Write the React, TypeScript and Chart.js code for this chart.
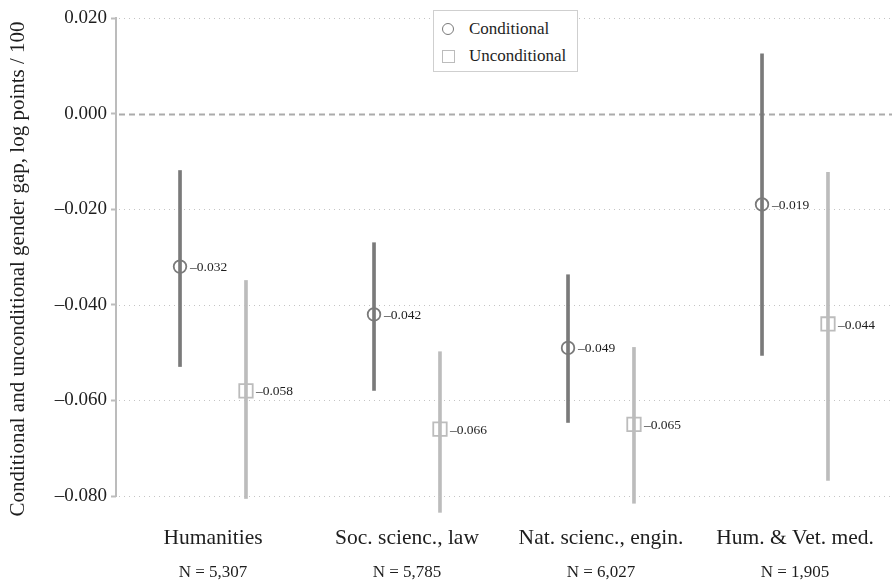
import React, { useEffect, useRef } from 'react';
import { Chart, registerables } from 'chart.js';

Chart.register(...registerables);

const categories = ['Humanities', 'Soc. scienc., law', 'Nat. scienc., engin.', 'Hum. & Vet. med.'];
const sampleSizes = ['N = 5,307', 'N = 5,785', 'N = 6,027', 'N = 1,905'];

const conditional = [-0.032, -0.042, -0.049, -0.019];
const conditionalLow = [-0.0529, -0.0579, -0.0646, -0.0506];
const conditionalHigh = [-0.0119, -0.027, -0.0337, 0.0125];

const unconditional = [-0.058, -0.066, -0.065, -0.044];
const unconditionalLow = [-0.0805, -0.0834, -0.0815, -0.0767];
const unconditionalHigh = [-0.0349, -0.0498, -0.0489, -0.0123];

const yTicks = [0.02, 0, -0.02, -0.04, -0.06, -0.08];

const OFFSET = 0.17;
const FONT = "'Liberation Serif', 'Times New Roman', Times, serif";
const DARK = '#7a7a7a';
const LIGHT = '#bcbcbc';
const TEXT = '#1e1e1e';

const fmt = (v: number) => {
  const s = (Math.abs(v) < 1e-9 ? 0 : v).toFixed(3);
  return s.replace('-', '\u2013');
};

const decorPlugin = {
  id: 'decor',
  beforeDatasetsDraw(chart: any) {
    const { ctx, chartArea, scales } = chart;
    const y = scales.y;
    ctx.save();
    yTicks.forEach((v) => {
      const py = Math.round(y.getPixelForValue(v)) + 0.5;
      ctx.beginPath();
      if (v === 0) {
        ctx.setLineDash([6, 4]);
        ctx.lineWidth = 2;
        ctx.strokeStyle = '#ababab';
      } else {
        ctx.setLineDash([1, 4]);
        ctx.lineWidth = 1;
        ctx.strokeStyle = '#c4c4c4';
      }
      ctx.moveTo(chartArea.left + 3, py);
      ctx.lineTo(chartArea.right, py);
      ctx.stroke();
    });
    ctx.setLineDash([]);
    ctx.beginPath();
    ctx.lineWidth = 2;
    ctx.strokeStyle = LIGHT;
    ctx.moveTo(chartArea.left, y.getPixelForValue(yTicks[0]) - 1);
    ctx.lineTo(chartArea.left, y.getPixelForValue(yTicks[yTicks.length - 1]) + 1);
    ctx.stroke();
    ctx.restore();
  },
  afterDatasetsDraw(chart: any) {
    const { ctx } = chart;
    ctx.save();
    ctx.font = `13.5px ${FONT}`;
    ctx.fillStyle = TEXT;
    ctx.textBaseline = 'middle';
    ctx.textAlign = 'left';
    chart.data.datasets.forEach((ds: any, di: number) => {
      if (ds.type !== 'scatter') return;
      const meta = chart.getDatasetMeta(di);
      meta.data.forEach((el: any, i: number) => {
        ctx.fillText(fmt(ds.data[i].y), el.x + 10, el.y + 1);
      });
    });
    ctx.restore();
  },
};

const zeroHPad = (s: any) => {
  s.paddingLeft = 0;
  s.paddingRight = 0;
};

export default function App() {
  const ref = useRef<HTMLCanvasElement | null>(null);

  useEffect(() => {
    if (!ref.current) return;
    const chart = new Chart(ref.current, {
      type: 'bar',
      data: {
        datasets: [
          {
            type: 'bar',
            label: 'Conditional CI',
            data: categories.map((_, i) => ({ x: i + 1 - OFFSET, y: [conditionalLow[i], conditionalHigh[i]] })) as any,
            backgroundColor: DARK,
            barThickness: 3,
            grouped: false,
            borderWidth: 0,
            order: 3,
          },
          {
            type: 'bar',
            label: 'Unconditional CI',
            data: categories.map((_, i) => ({ x: i + 1 + OFFSET, y: [unconditionalLow[i], unconditionalHigh[i]] })) as any,
            backgroundColor: LIGHT,
            barThickness: 3,
            grouped: false,
            borderWidth: 0,
            order: 3,
          },
          {
            type: 'scatter',
            label: 'Conditional',
            data: categories.map((_, i) => ({ x: i + 1 - OFFSET, y: conditional[i] })),
            pointStyle: 'circle',
            pointRadius: 6.3,
            borderColor: DARK,
            backgroundColor: 'rgba(0,0,0,0)',
            borderWidth: 1.8,
            order: 0,
          } as any,
          {
            type: 'scatter',
            label: 'Unconditional',
            data: categories.map((_, i) => ({ x: i + 1 + OFFSET, y: unconditional[i] })),
            pointStyle: 'rect',
            pointRadius: 9.5,
            borderColor: LIGHT,
            backgroundColor: 'rgba(0,0,0,0)',
            borderWidth: 1.8,
            order: 0,
          } as any,
        ],
      },
      options: {
        animation: false,
        responsive: false,
        layout: { autoPadding: false, padding: { top: 18, left: 0, right: 0, bottom: 0 } },
        plugins: { legend: { display: false }, tooltip: { enabled: false } },
        scales: {
          x: {
            type: 'linear',
            position: 'bottom',
            min: 0.5,
            max: 4.5,
            offset: false,
            grid: { display: false, drawTicks: false },
            border: { display: false },
            afterBuildTicks: (s: any) => {
              s.ticks = categories.map((_, i) => ({ value: i + 1 }));
            },
            ticks: {
              callback: (v: any) => categories[Math.round(v) - 1] ?? '',
              font: { family: FONT, size: 21.5 },
              color: TEXT,
              padding: 5,
              maxRotation: 0,
              autoSkip: false,
            },
            afterFit: (s: any) => {
              s.height = 32;
              zeroHPad(s);
            },
          } as any,
          x2: {
            type: 'linear',
            position: 'bottom',
            min: 0.5,
            max: 4.5,
            offset: false,
            grid: { display: false, drawTicks: false },
            border: { display: false },
            afterBuildTicks: (s: any) => {
              s.ticks = sampleSizes.map((_, i) => ({ value: i + 1 }));
            },
            ticks: {
              callback: (v: any) => sampleSizes[Math.round(v) - 1] ?? '',
              font: { family: FONT, size: 17 },
              color: TEXT,
              padding: 10,
              maxRotation: 0,
              autoSkip: false,
            },
            afterFit: (s: any) => {
              s.height = 28;
              zeroHPad(s);
            },
          } as any,
          y: {
            type: 'linear',
            min: -0.085,
            max: 0.02,
            afterBuildTicks: (s: any) => {
              s.ticks = yTicks.map((v) => ({ value: v }));
            },
            grid: { drawOnChartArea: false, drawTicks: true, tickLength: 5, tickColor: LIGHT, tickWidth: 2 },
            border: { display: false },
            ticks: {
              callback: (v: any) => fmt(Number(v)),
              font: { family: FONT, size: 19 },
              color: TEXT,
              padding: 4,
            },
            title: {
              display: true,
              text: 'Conditional and unconditional gender gap, log points / 100',
              font: { family: FONT, size: 21 },
              color: TEXT,
              padding: { top: 6, bottom: 0 },
            },
            afterFit: (s: any) => {
              s.width = 116;
            },
          } as any,
        },
      },
      plugins: [decorPlugin],
    });
    return () => chart.destroy();
  }, []);

  const legendRow = (marker: React.ReactNode, label: string, top: number) => (
    <div style={{ position: 'absolute', left: 0, top, height: 24, width: '100%', display: 'flex', alignItems: 'center' }}>
      <div style={{ width: 28, display: 'flex', justifyContent: 'center' }}>{marker}</div>
      <span style={{ fontFamily: FONT, fontSize: 17, color: TEXT, marginLeft: 7, whiteSpace: 'nowrap' }}>{label}</span>
    </div>
  );

  return (
    <div style={{ position: 'fixed', left: 0, top: 0, width: 892, height: 580, background: '#fff' }}>
      <canvas ref={ref} width={892} height={580} style={{ display: 'block' }} />
      <div
        style={{
          position: 'absolute',
          left: 433,
          top: 10,
          width: 145,
          height: 62,
          border: '1px solid #cfcfcf',
          background: '#fff',
          boxSizing: 'border-box',
        }}
      >
        {legendRow(
          <div style={{ width: 12, height: 12, borderRadius: '50%', border: `1.8px solid ${DARK}`, boxSizing: 'border-box' }} />,
          'Conditional',
          6
        )}
        {legendRow(
          <div style={{ width: 13, height: 13, border: `1.8px solid ${LIGHT}`, boxSizing: 'border-box' }} />,
          'Unconditional',
          33
        )}
      </div>
    </div>
  );
}
